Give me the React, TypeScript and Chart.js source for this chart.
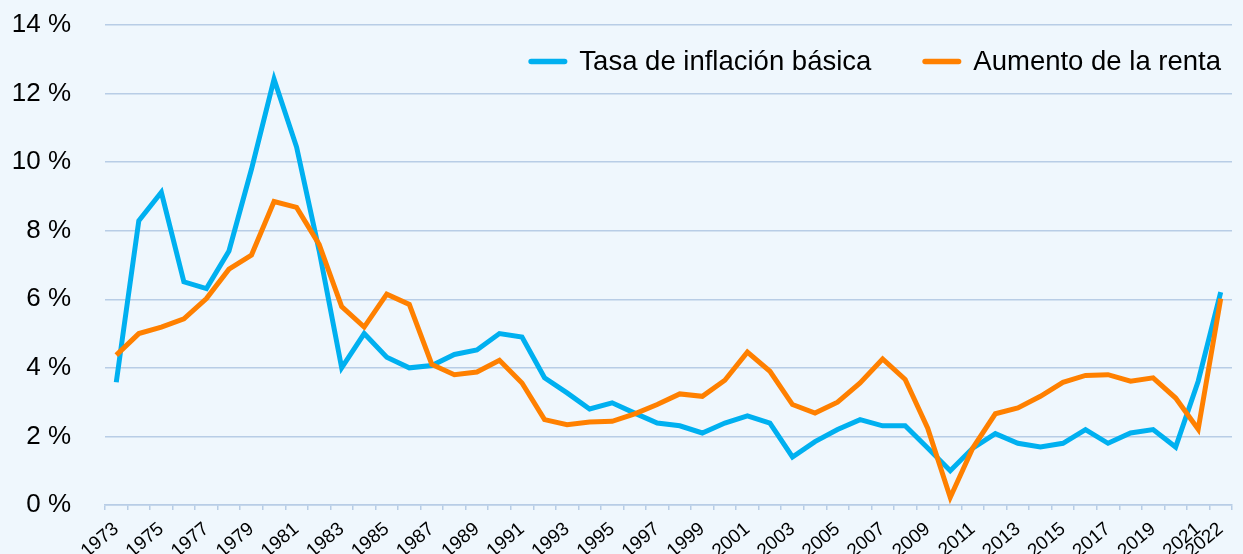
import React, { useEffect, useRef } from "react";
import { Chart, registerables } from "chart.js";

Chart.register(...registerables);

const years: string[] = [
  "1973", "1974", "1975", "1976", "1977", "1978", "1979", "1980", "1981", "1982",
  "1983", "1984", "1985", "1986", "1987", "1988", "1989", "1990", "1991", "1992",
  "1993", "1994", "1995", "1996", "1997", "1998", "1999", "2000", "2001", "2002",
  "2003", "2004", "2005", "2006", "2007", "2008", "2009", "2010", "2011", "2012",
  "2013", "2014", "2015", "2016", "2017", "2018", "2019", "2020", "2021", "2022",
];

const inflationBasica: number[] = [
  3.58, 8.29, 9.12, 6.51, 6.31, 7.41, 9.8, 12.42, 10.44, 7.42,
  4.0, 5.0, 4.31, 4.0, 4.07, 4.39, 4.52, 5.0, 4.9, 3.71,
  3.27, 2.8, 2.98, 2.68, 2.39, 2.31, 2.1, 2.39, 2.6, 2.39,
  1.4, 1.85, 2.2, 2.49, 2.31, 2.31, 1.66, 1.0, 1.66, 2.08,
  1.8, 1.69, 1.8, 2.2, 1.8, 2.1, 2.2, 1.69, 3.61, 6.21,
];

const aumentoRenta: number[] = [
  4.37, 5.0, 5.19, 5.43, 6.02, 6.88, 7.29, 8.85, 8.68, 7.6,
  5.79, 5.19, 6.15, 5.85, 4.1, 3.8, 3.88, 4.22, 3.56, 2.49,
  2.34, 2.42, 2.44, 2.66, 2.93, 3.24, 3.17, 3.64, 4.46, 3.9,
  2.93, 2.68, 3.0, 3.56, 4.26, 3.66, 2.24, 0.22, 1.66, 2.66,
  2.83, 3.17, 3.58, 3.78, 3.8, 3.61, 3.71, 3.12, 2.21, 6.02,
];

const seriesNames: string[] = ["Tasa de inflación básica", "Aumento de la renta"];
const yTicks: number[] = [0, 2, 4, 6, 8, 10, 12, 14];

const BLUE = "#00B0F0";
const ORANGE = "#FF8000";
const GRID = "#B8CDE6";
const BG = "#EFF7FD";
const FONT = "'Liberation Sans', Arial, Helvetica, sans-serif";

const insideLegend = {
  id: "insideLegend",
  afterDraw(chart: any) {
    const { ctx, chartArea } = chart;
    const ds = chart.data.datasets;
    ctx.save();
    ctx.font = `27.5px ${FONT}`;
    ctx.textBaseline = "alphabetic";
    ctx.textAlign = "left";
    const markerW = 39;
    const markerGap = 12;
    const itemGap = 51;
    const baseline = chartArea.top + 45;
    const markerY = chartArea.top + 36.5;
    let right = chartArea.right - 11;
    for (let i = ds.length - 1; i >= 0; i--) {
      const text = ds[i].label as string;
      const w = ctx.measureText(text).width;
      const textX = right - w;
      ctx.fillStyle = "#000000";
      ctx.fillText(text, textX, baseline);
      const mEnd = textX - markerGap;
      const mStart = mEnd - markerW;
      ctx.strokeStyle = ds[i].borderColor;
      ctx.lineWidth = 5.5;
      ctx.lineCap = "round";
      ctx.beginPath();
      ctx.moveTo(mStart + 2.75, markerY);
      ctx.lineTo(mEnd - 2.75, markerY);
      ctx.stroke();
      right = mStart - itemGap;
    }
    ctx.restore();
  },
};

export default function App() {
  const canvasRef = useRef<HTMLCanvasElement | null>(null);

  useEffect(() => {
    document.body.style.margin = "0";
    document.body.style.background = BG;
    const canvas = canvasRef.current;
    if (!canvas) return;
    const last = years.length - 1;
    const chart = new Chart(canvas, {
      type: "line",
      data: {
        labels: years,
        datasets: [
          {
            label: seriesNames[0],
            data: inflationBasica,
            borderColor: BLUE,
            backgroundColor: BLUE,
            borderWidth: 5,
            pointRadius: 0,
            pointHoverRadius: 0,
            tension: 0,
            fill: false,
            order: 1,
          },
          {
            label: seriesNames[1],
            data: aumentoRenta,
            borderColor: ORANGE,
            backgroundColor: ORANGE,
            borderWidth: 5,
            pointRadius: 0,
            pointHoverRadius: 0,
            tension: 0,
            fill: false,
            order: 0,
          },
        ],
      },
      options: {
        animation: false,
        responsive: false,
        maintainAspectRatio: false,
        layout: { padding: { top: 25, right: 11, left: 0, bottom: 0 } },
        plugins: {
          legend: { display: false },
          tooltip: { enabled: false },
          title: { display: false },
        },
        scales: {
          x: {
            type: "category",
            offset: true,
            grid: {
              display: true,
              drawOnChartArea: false,
              drawTicks: true,
              tickLength: 5,
              color: GRID,
              lineWidth: 1.5,
              offset: true,
            },
            border: { display: true, color: GRID, width: 1.5 },
            ticks: {
              autoSkip: false,
              maxRotation: 40,
              minRotation: 40,
              padding: 8,
              color: "#000000",
              font: { family: FONT, size: 19 },
              callback: (_v: any, i: number) =>
                i % 2 === 0 || i === last ? years[i] : "",
            },
            afterFit: (s: any) => {
              s.height = 49;
              s.paddingLeft = 0;
              s.paddingRight = 0;
            },
          },
          y: {
            min: yTicks[0],
            max: yTicks[yTicks.length - 1],
            grid: { color: GRID, lineWidth: 1.5, drawTicks: false },
            border: { display: false },
            ticks: {
              stepSize: 2,
              padding: 34,
              color: "#000000",
              font: { family: FONT, size: 26 },
              callback: (v: any) => `${v} %`,
            },
            afterFit: (s: any) => {
              s.width = 105;
              s.paddingTop = 0;
              s.paddingBottom = 0;
            },
          },
        },
      },
      plugins: [insideLegend],
    });
    return () => chart.destroy();
  }, []);

  return (
    <div style={{ width: 1243, height: 554, background: BG }}>
      <canvas ref={canvasRef} width={1243} height={554} style={{ display: "block" }} />
    </div>
  );
}
